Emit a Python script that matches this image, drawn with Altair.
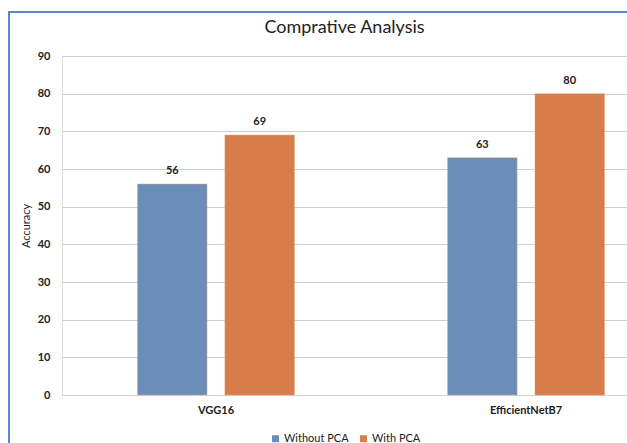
import altair as alt
import pandas as pd

models = ["VGG16", "VGG16", "EfficientNetB7", "EfficientNetB7"]
series = ["Without PCA", "With PCA", "Without PCA", "With PCA"]
accuracy = [56, 69, 63, 80]

series_order = ["Without PCA", "With PCA"]
model_order = ["VGG16", "EfficientNetB7"]
colors = ["#6a8db9", "#d77c4a"]
y_ticks = [0, 10, 20, 30, 40, 50, 60, 70, 80, 90]

df = pd.DataFrame({"Model": models, "Series": series, "Accuracy": accuracy})

FONT = "Lato"

x_enc = alt.X(
    "Model:N",
    sort=model_order,
    title=None,
    scale=alt.Scale(range=[0, 618], paddingInner=0.494, paddingOuter=0.2435),
    axis=alt.Axis(labelAngle=0, domain=False, ticks=False, labelPadding=9,
                  labelFontSize=11, labelFontWeight="bold", labelFont=FONT,
                  labelColor="#222222"),
)
xo_enc = alt.XOffset("Series:N", sort=series_order,
                     scale=alt.Scale(paddingInner=0.2045, paddingOuter=0))
y_axis = alt.Axis(values=y_ticks, tickCount=10, domain=False, ticks=False, grid=True,
                  gridColor="#cfcfcf", gridWidth=1, labelPadding=12,
                  labelFontSize=11, labelFontWeight="bold", labelFont=FONT,
                  labelColor="#222222", title="Accuracy", titleFont=FONT,
                  titleFontSize=11, titleFontWeight="normal", titlePadding=6,
                  titleColor="#222222", labelOverlap=False)
y_enc = alt.Y(
    "Accuracy:Q",
    scale=alt.Scale(domain=[0, 90], nice=False),
    axis=y_axis,
)

bars = alt.Chart(df).mark_bar(stroke="#e6a27a", strokeWidth=0.5).encode(
    x=x_enc,
    xOffset=xo_enc,
    y=y_enc,
    color=alt.Color(
        "Series:N",
        sort=series_order,
        scale=alt.Scale(domain=series_order, range=colors),
        legend=alt.Legend(title=None, orient="none", direction="horizontal",
                          legendX=208, legendY=377, symbolType="square",
                          symbolSize=49, symbolStrokeWidth=0, labelFont=FONT,
                          labelFontSize=11, labelColor="#222222",
                          columnPadding=9, labelOffset=3, padding=0),
    ),
)

labels = alt.Chart(df).mark_text(baseline="bottom", dy=-8, fontSize=11,
                                 fontWeight="bold", font=FONT, color="#222222").encode(
    x=x_enc,
    xOffset=xo_enc,
    y=y_enc,
    text=alt.Text("Accuracy:Q"),
)

frame = alt.Chart(df).mark_rect(fill=None, stroke="#5b87c9", strokeWidth=2).encode(
    x=alt.value(-53), x2=alt.value(700), y=alt.value(-44), y2=alt.value(520)
)

chart = alt.layer(frame, bars, labels).properties(
    width=565,
    height=339,
    title=alt.TitleParams("Comprative Analysis", font=FONT, fontSize=18,
                          fontWeight="normal", color="#222222", offset=-26,
                          anchor="middle"),
    autosize=alt.AutoSizeParams(type="none"),
    padding={"left": 62, "top": 56, "right": 0, "bottom": 48},
).configure_view(stroke=None).configure(background="white")

chart.save("out.html", embed_options={"renderer": "svg", "actions": False})
